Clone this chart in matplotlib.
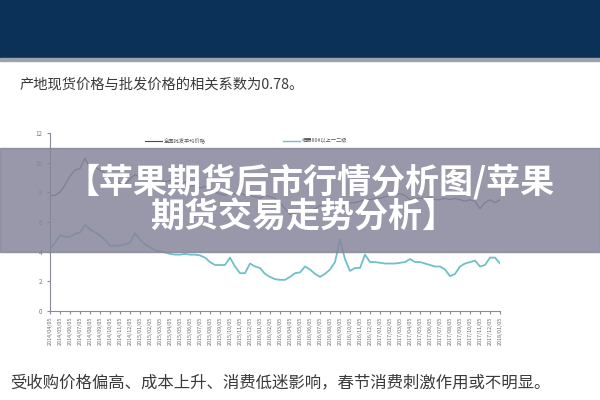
"""Screenshot recreation: apple wholesale vs. Qixia origin price chart with overlay banner"""

import numpy as np
import matplotlib.pyplot as plt
from matplotlib.patches import Rectangle

plt.rcParams['font.family'] = ['Noto Sans CJK SC', 'DejaVu Sans']

# half-month samples, 2014/04 .. 2018/01
WHOLESALE = [
    7.8, 7.8, 8.0, 8.5, 9.1, 9.5, 9.6, 10.3, 9.6, 9.7,
    9.5, 9.3, 9.1, 9.0, 8.6, 8.5, 8.9, 9.2, 9.0, 9.1,
    8.9, 8.8, 8.9, 8.7, 8.8, 8.6, 8.5, 8.7, 8.4, 8.5,
    8.3, 8.4, 8.3, 8.0, 7.9, 7.8, 8.0, 7.9, 8.0, 7.8,
    7.8, 7.7, 7.6, 7.8, 7.7, 7.6, 7.3, 6.9, 6.5, 6.6,
    6.7, 6.8, 6.8, 6.9, 7.1, 7.2, 7.3, 7.1, 7.0, 7.1,
    7.3, 7.3, 7.4, 7.5, 7.5, 7.6, 7.6, 7.7, 7.8, 7.8,
    7.9, 7.8, 7.5, 7.6, 7.6, 7.6, 7.7, 7.5, 7.5, 7.6,
    7.5, 7.6, 7.5, 7.4, 7.5, 7.4, 6.9, 7.3, 7.5, 7.3,
    7.5,
]
QIXIA = [
    4.2, 4.6, 5.1, 5.0, 5.0, 5.2, 5.3, 5.8, 5.5, 5.3,
    5.1, 4.8, 4.4, 4.4, 4.4, 4.5, 4.6, 5.25, 4.8, 4.5,
    4.3, 4.1, 4.0, 3.95, 3.85, 3.8, 3.8, 3.85, 3.8, 3.8,
    3.75, 3.6, 3.3, 3.1, 3.1, 3.1, 3.6, 3.0, 2.55, 2.55,
    3.2, 3.0, 2.9, 2.5, 2.3, 2.15, 2.1, 2.1, 2.3, 2.55,
    2.6, 3.0, 2.8, 2.5, 2.3, 2.5, 2.8, 3.3, 4.8, 3.5,
    2.7, 2.9, 2.9, 3.8, 3.3, 3.3, 3.25, 3.2, 3.2, 3.2,
    3.25, 3.3, 3.5, 3.3, 3.3, 3.2, 3.1, 3.0, 3.0, 2.8,
    2.35, 2.5, 3.0, 3.2, 3.3, 3.4, 3.0, 3.1, 3.6, 3.6,
    3.2,
]
MONTHS = [(2014 + (3 + i) // 12, (3 + i) % 12 + 1) for i in range(46)]
TICK_LABELS = [f"{y}/{m:02d}/05" for y, m in MONTHS]
SERIES_NAMES = ["全国批发平均价格", "栖霞80#以上一二级"]

TITLE = "产地现货价格与批发价格的相关系数为0.78。"
FOOTER = "受收购价格偏高、成本上升、消费低迷影响，春节消费刺激作用或不明显。"
BANNER_1 = "【苹果期货后市行情分析图/苹果"
BANNER_2 = "期货交易走势分析】"

W, H = 600, 400
fig = plt.figure(figsize=(6, 4), dpi=100)
fig.patch.set_facecolor("white")


def px(x, y):
    return x / W, 1 - y / H


# header band
fig.patches.append(Rectangle((0, 1 - 58 / H), 1, 58 / H, transform=fig.transFigure,
                             color="#0c3158", zorder=0))
fig.patches.append(Rectangle((0, 1 - 61 / H), 1, 3 / H, transform=fig.transFigure,
                             color="#9aa3ae", zorder=0))

fig.text(*px(20, 85), TITLE, fontsize=10.3, color="#3a3a3a", va="center", ha="left")
fig.text(*px(10, 383), FOOTER, fontsize=11.8, color="#3a3a3a", va="center", ha="left")

# chart
ax = fig.add_axes([50 / W, 1 - 311 / H, 450 / W, 178 / H])
x = np.arange(len(WHOLESALE)) * 0.5
ax.plot(x, WHOLESALE, color="#4a4a4a", linewidth=0.8)
ax.plot(x, QIXIA, color="#6fc0c8", linewidth=1.3)
ax.set_xlim(0, 45)
ax.set_ylim(0, 12)
ax.set_yticks(range(0, 13, 2))
ax.set_xticks(range(len(TICK_LABELS)))
ax.set_xticklabels(TICK_LABELS, rotation=90, fontsize=3.9, color="#6a6a6a")
ax.tick_params(axis="y", labelsize=4.5, labelcolor="#777777", length=2, color="#8a8a9a")
ax.tick_params(axis="x", length=2, color="#8a8a9a", pad=2)
for s in ["top", "right"]:
    ax.spines[s].set_visible(False)
for s in ["left", "bottom"]:
    ax.spines[s].set_color("#8a8a9a")
    ax.spines[s].set_linewidth(0.8)
ax.patch.set_alpha(0)

# legend drawn by hand at the top of the plot
fig.lines.append(plt.Line2D([145 / W, 162 / W], [1 - 141 / H] * 2, transform=fig.transFigure,
                            color="#4a4a4a", linewidth=0.8))
fig.text(*px(164, 141), SERIES_NAMES[0], fontsize=3.8, color="#555555", va="center")
fig.lines.append(plt.Line2D([283 / W, 300 / W], [1 - 141 / H] * 2, transform=fig.transFigure,
                            color="#6fc0c8", linewidth=1.0))
fig.text(*px(302, 141), SERIES_NAMES[1], fontsize=3.8, color="#555555", va="center")

# overlay banner
fig.patches.append(Rectangle((0, 1 - 252 / H), 1, 104 / H, transform=fig.transFigure,
                             color=(134 / 255, 134 / 255, 155 / 255), alpha=0.85, zorder=5))
fig.text(*px(66, 182), BANNER_1, fontsize=24.5, fontweight="bold", color="white",
         va="center", ha="left", zorder=6)
fig.text(*px(150, 217), BANNER_2, fontsize=24.5, fontweight="bold", color="white",
         va="center", ha="left", zorder=6)

fig.savefig("out.png", dpi=100)
